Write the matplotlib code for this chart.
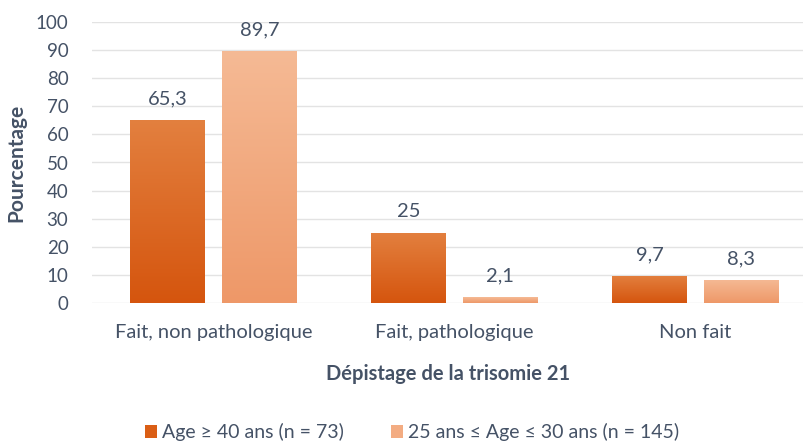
import numpy as np
import matplotlib
matplotlib.use("Agg")
import matplotlib.pyplot as plt
from matplotlib.colors import LinearSegmentedColormap
from matplotlib.patches import Patch

categories = ["Fait, non pathologique", "Fait, pathologique", "Non fait"]
series_names = ["Age \u2265 40 ans (n = 73)", "25 ans \u2264 Age \u2264 30 ans (n = 145)"]
vals_old = [65.3, 25, 9.7]
vals_young = [89.7, 2.1, 8.3]
value_labels_old = ["65,3", "25", "9,7"]
value_labels_young = ["89,7", "2,1", "8,3"]
yticks = [0, 10, 20, 30, 40, 50, 60, 70, 80, 90, 100]

plt.rcParams['font.family'] = ['Lato', 'DejaVu Sans']
TXT = "#455266"
GRID = "#E3E3E3"

fig = plt.figure(figsize=(8.04, 4.43), dpi=100)
ax = fig.add_axes([92/804, 140/443, 712/804, 281/443])

x = np.arange(len(categories))
w = 0.31
off = 0.19
grads = [("#E3803F", "#D5550E"), ("#F5BA95", "#EE9868")]
legend_cols = ["#DA5E15", "#F3AC82"]

for si, (vals, labs) in enumerate([(vals_old, value_labels_old), (vals_young, value_labels_young)]):
    xs = x + (-off if si == 0 else off)
    bars = ax.bar(xs, vals, width=w, color="none", edgecolor="none", zorder=3)
    top, bot = grads[si]
    cmap = LinearSegmentedColormap.from_list("g%d" % si, [bot, top])
    for b in bars:
        x0, y0 = b.get_x(), b.get_y()
        bw, bh = b.get_width(), b.get_height()
        grad = np.linspace(0, 1, 256).reshape(-1, 1)
        im = ax.imshow(grad, cmap=cmap, origin="lower", aspect="auto",
                       extent=[x0, x0 + bw, y0, y0 + bh], zorder=3, interpolation="bilinear")
        im.set_clip_path(b)
    for xi, v, lab in zip(xs, vals, labs):
        ax.annotate(lab, (xi, v), xytext=(0, 9), textcoords="offset points",
                    ha="center", va="bottom", fontsize=14.5, color=TXT)

ax.set_xlim(-0.504, 2.45)
ax.set_ylim(0, 100)
ax.set_yticks(yticks)
ax.set_yticklabels([str(t) for t in yticks])
ax.set_xticks(x)
ax.set_xticklabels(categories, fontsize=14.5)
ax.grid(axis="y", color=GRID, linewidth=1.0, zorder=0)
ax.set_axisbelow(True)
for s in ax.spines.values():
    s.set_visible(False)
ax.tick_params(axis="both", length=0, colors=TXT)
ax.tick_params(axis="y", pad=17, labelsize=13.5)
ax.tick_params(axis="x", pad=15)

ax.set_ylabel("Pourcentage", fontsize=15, fontweight="bold", color=TXT, labelpad=7)
ax.set_xlabel("D\u00e9pistage de la trisomie 21", fontsize=14.5, fontweight="bold", color=TXT, labelpad=17)

handles = [Patch(facecolor=legend_cols[0]), Patch(facecolor=legend_cols[1])]
leg = fig.legend(handles, series_names, loc="center", bbox_to_anchor=(412/804, 1 - 432/443),
                 ncol=2, frameon=False, fontsize=14, handlelength=0.65, handleheight=0.65,
                 handletextpad=0.25, columnspacing=2.4)
for t in leg.get_texts():
    t.set_color(TXT)

fig.savefig("out.png", dpi=100)
